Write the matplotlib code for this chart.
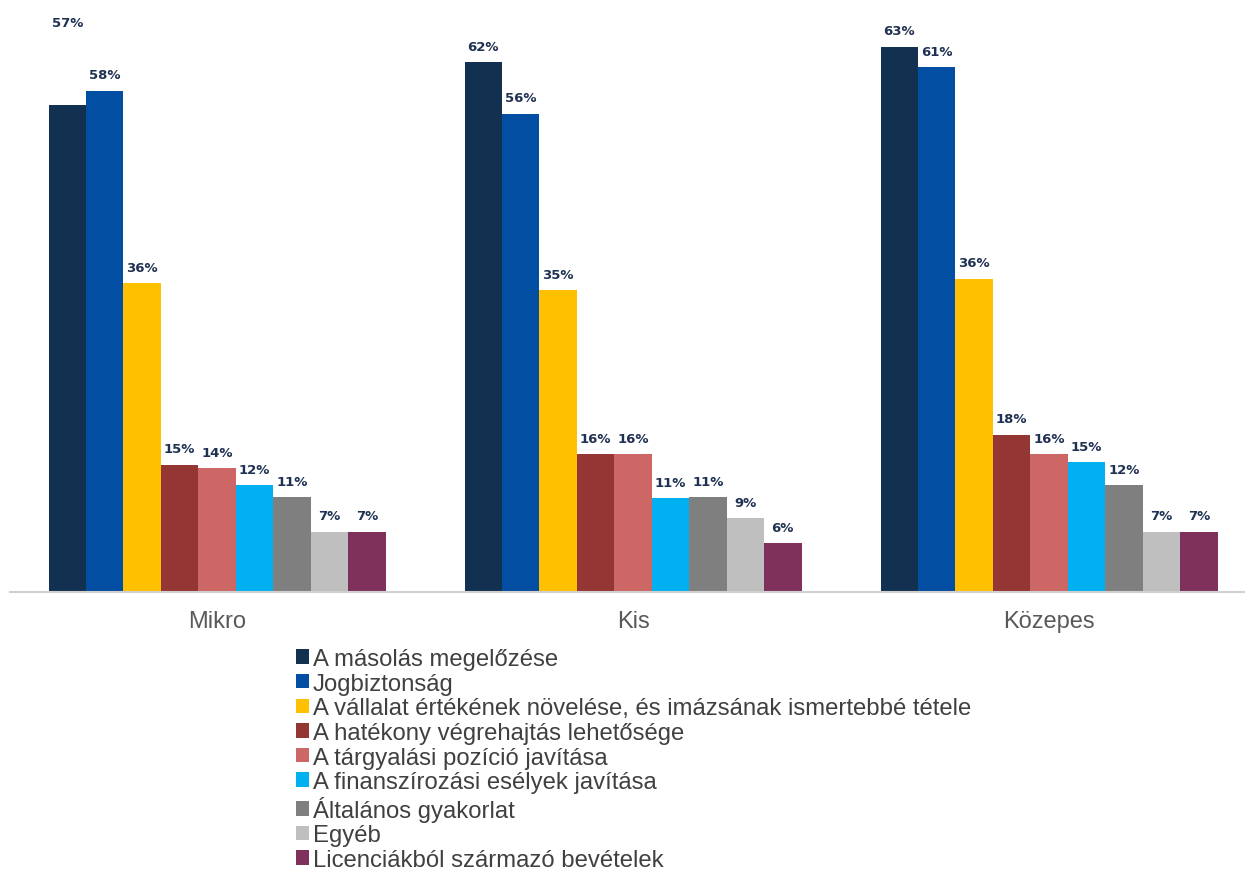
import numpy as np
import matplotlib
matplotlib.use("Agg")
import matplotlib.pyplot as plt
from matplotlib.patches import Patch

plt.rcParams['font.family'] = ['Liberation Sans', 'DejaVu Sans']

categories = ["Mikro", "Kis", "Közepes"]
series = [
    "A másolás megelőzése",
    "Jogbiztonság",
    "A vállalat értékének növelése, és imázsának ismertebbé tétele",
    "A hatékony végrehajtás lehetősége",
    "A tárgyalási pozíció javítása",
    "A finanszírozási esélyek javítása",
    "Általános gyakorlat",
    "Egyéb",
    "Licenciákból származó bevételek",
]
colors = ["#12304f", "#024ea2", "#ffc000", "#943634", "#cc6766",
          "#00b0f0", "#7f7f7f", "#bfbfbf", "#7f315b"]

mikro = [56.6, 58.3, 35.9, 14.8, 14.4, 12.4, 11.0, 7.0, 7.0]
kis = [61.6, 55.6, 35.1, 16.0, 16.0, 10.9, 11.0, 8.6, 5.7]
kozepes = [63.4, 61.0, 36.4, 18.3, 16.0, 15.1, 12.4, 7.0, 7.0]
values = np.array([mikro, kis, kozepes])

fig = plt.figure(figsize=(12.45, 8.7), dpi=100)
ax = fig.add_axes([10 / 1245, 277 / 870, 1 - 10 / 1245, 593 / 870])

x = np.arange(len(categories))
width = 0.09
n = len(series)
for i in range(n):
    pos = x + (i - (n - 1) / 2) * width
    ax.bar(pos, values[:, i], width, color=colors[i], linewidth=0)
    for j, v in enumerate(values[:, i]):
        # the first Mikro label sits far above its bar in the original
        extra = 7.8 if (i == 0 and j == 0) else 0.0
        ax.text(pos[j], v + 1.1 + extra, f"{v:.0f}%", ha="center", va="bottom",
                fontsize=9.5, fontweight="bold", color="#1f3152",
                family=["DejaVu Sans"])

ax.set_xlim(-0.4976, 2.471)
ax.set_ylim(0, 593 / 8.6)
for s in ["top", "right", "left"]:
    ax.spines[s].set_visible(False)
ax.spines["bottom"].set_color("#d0d0d0")
ax.spines["bottom"].set_linewidth(1.5)
ax.set_yticks([])
ax.set_xticks(x)
ax.set_xticklabels(categories, fontsize=17, color="#595959")
ax.tick_params(axis="x", length=0, pad=13)

handles = [Patch(facecolor=c, edgecolor="none") for c in colors]
fig.legend(handles, series, loc="upper left", bbox_to_anchor=(296 / 1245, 1 - 649 / 870),
           frameon=False, fontsize=17.2, labelcolor="#404040",
           handlelength=0.55, handleheight=0.55, handletextpad=0.15,
           labelspacing=0.11, borderaxespad=0, borderpad=0)

fig.savefig("out.png", dpi=100)
